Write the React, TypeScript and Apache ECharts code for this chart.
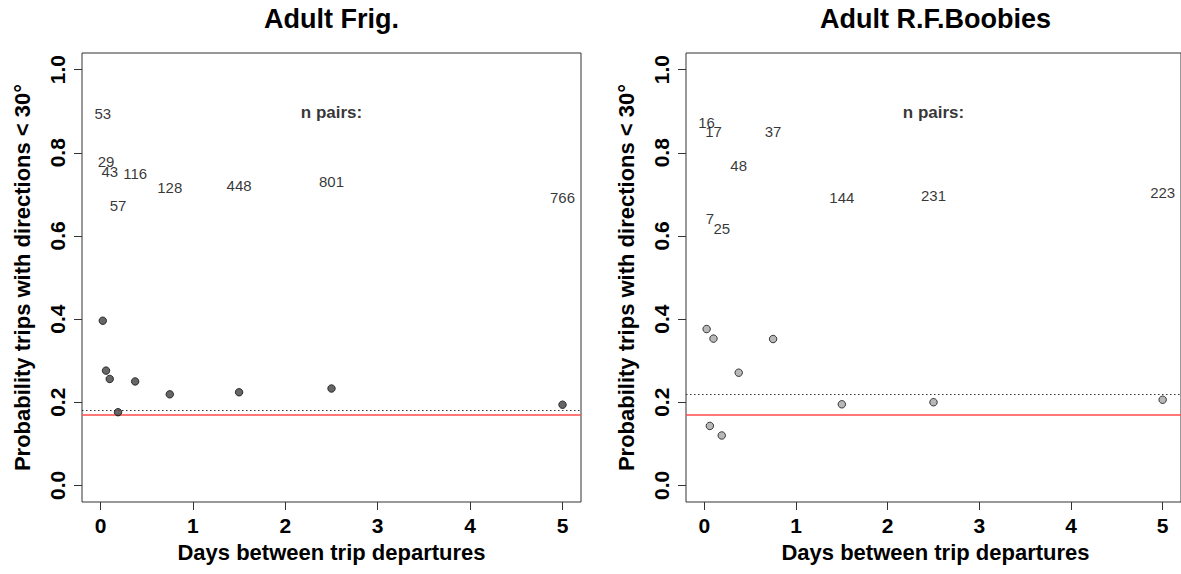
import React, { useEffect, useRef } from "react";
import * as echarts from "echarts";

const days = [0.025, 0.06, 0.1, 0.19, 0.375, 0.75, 1.5, 2.5, 5];
const frigProb = [0.396, 0.276, 0.256, 0.176, 0.25, 0.219, 0.224, 0.233, 0.194];
const boobyProb = [0.376, 0.143, 0.353, 0.12, 0.271, 0.352, 0.195, 0.2, 0.206];
const frigN = [53, 29, 43, 57, 116, 128, 448, 801, 766];
const frigNY = [0.895, 0.778, 0.755, 0.673, 0.749, 0.717, 0.722, 0.731, 0.693];
const boobyN = [16, 7, 17, 25, 48, 37, 144, 231, 223];
const boobyNY = [0.874, 0.643, 0.851, 0.619, 0.769, 0.85, 0.692, 0.697, 0.704];
const frigBaseline = 0.182;
const boobyBaseline = 0.217;
const chanceLevel = 0.1667;
const xTicks = [0, 1, 2, 3, 4, 5];
const yTicks = [0, 0.2, 0.4, 0.6, 0.8, 1.0];
const titles = ["Adult Frig.", "Adult R.F.Boobies"];
const xTitle = "Days between trip departures";
const yTitle = "Probability trips with directions < 30°";
const nPairsLabel = "n pairs:";
const nPairsPos = [2.5, 0.898];

const FONT = "'Liberation Sans', Arial, sans-serif";

export default function App() {
  const ref = useRef<HTMLDivElement>(null);
  useEffect(() => {
    const chart = echarts.init(ref.current!, null, { renderer: "svg" });
    const grids = [
      { left: 82, top: 53, width: 499, height: 449 },
      { left: 686, top: 53, width: 499, height: 449 },
    ];
    const xAxes = grids.map((_, i) => ({
      type: "value",
      gridIndex: i,
      min: -0.2,
      max: 5.2,
      axisLine: { show: false, onZero: false },
      splitLine: { show: false },
      axisTick: { show: true, inside: false, length: 8, customValues: xTicks, lineStyle: { color: "#333" } },
      axisLabel: {
        customValues: xTicks,
        fontFamily: FONT,
        fontWeight: "bold",
        fontSize: 21,
        color: "#000",
        margin: 13,
      },
    }));
    const yAxes = grids.map((_, i) => ({
      type: "value",
      gridIndex: i,
      min: -0.04,
      max: 1.04,
      axisLine: { show: false, onZero: false },
      splitLine: { show: false },
      axisTick: { show: true, inside: false, length: 8, customValues: yTicks, lineStyle: { color: "#333" } },
      axisLabel: {
        customValues: yTicks,
        rotate: 90,
        fontFamily: FONT,
        fontWeight: "bold",
        fontSize: 21,
        color: "#000",
        margin: 14,
        formatter: (v: number) => v.toFixed(1),
      },
    }));
    const probs = [frigProb, boobyProb];
    const baselines = [frigBaseline, boobyBaseline];
    const ns = [frigN, boobyN];
    const nys = [frigNY, boobyNY];
    const fills = ["#404040", "#a6a6a6"];
    const series: any[] = [];
    for (let i = 0; i < 2; i++) {
      series.push({
        type: "scatter",
        xAxisIndex: i,
        yAxisIndex: i,
        data: days.map((d, k) => [d, probs[i][k]]),
        symbol: "circle",
        symbolSize: 7.5,
        itemStyle: { color: fills[i], borderColor: "#111", borderWidth: 1 },
        z: 5,
        markLine: {
          silent: true,
          symbol: "none",
          label: { show: false },
          data: [
            { yAxis: baselines[i], lineStyle: { color: "#333", type: [1.5, 2.5], width: 1.2 } },
            { yAxis: chanceLevel, lineStyle: { color: "#ff4a4a", type: "solid", width: 1.5 } },
          ],
        },
      });
      series.push({
        type: "scatter",
        xAxisIndex: i,
        yAxisIndex: i,
        data: days.map((d, k) => ({ value: [d, nys[i][k]], name: String(ns[i][k]) })),
        symbol: "circle",
        symbolSize: 1,
        itemStyle: { color: "rgba(0,0,0,0)" },
        label: {
          show: true,
          position: "inside",
          formatter: (p: any) => p.name,
          fontFamily: FONT,
          fontSize: 15,
          color: "#000",
          textBorderWidth: 0,
        },
        z: 6,
      });
      series.push({
        type: "scatter",
        xAxisIndex: i,
        yAxisIndex: i,
        data: [{ value: nPairsPos, name: nPairsLabel }],
        symbol: "circle",
        symbolSize: 1,
        itemStyle: { color: "rgba(0,0,0,0)" },
        label: {
          show: true,
          position: "inside",
          formatter: (p: any) => p.name,
          fontFamily: FONT,
          fontSize: 17,
          fontWeight: "bold",
          color: "#000",
          textBorderWidth: 0,
        },
      });
    }
    const graphics: any[] = [];
    grids.forEach((g, i) => {
      const cx = g.left + g.width / 2;
      graphics.push({
        type: "text",
        x: cx,
        y: 19,
        style: { text: titles[i], textAlign: "center", textVerticalAlign: "middle", font: `bold 27px ${FONT}`, fill: "#000" },
      });
      graphics.push({
        type: "text",
        x: cx,
        y: 552,
        style: { text: xTitle, textAlign: "center", textVerticalAlign: "middle", font: `bold 22px ${FONT}`, fill: "#000" },
      });
      graphics.push({
        type: "text",
        x: g.left - 60,
        y: g.top + g.height / 2,
        rotation: Math.PI / 2,
        style: { text: yTitle, textAlign: "center", textVerticalAlign: "middle", font: `bold 22px ${FONT}`, fill: "#000" },
      });
    });
    chart.setOption({
      animation: false,
      backgroundColor: "#fff",
      grid: grids.map((g) => ({ ...g, show: true, borderColor: "#333", borderWidth: 1, backgroundColor: "transparent" })),
      xAxis: xAxes,
      yAxis: yAxes,
      series,
      graphic: graphics,
    });
    return () => chart.dispose();
  }, []);
  return <div ref={ref} style={{ position: "fixed", left: 0, top: 0, width: 1181, height: 574 }} />;
}
